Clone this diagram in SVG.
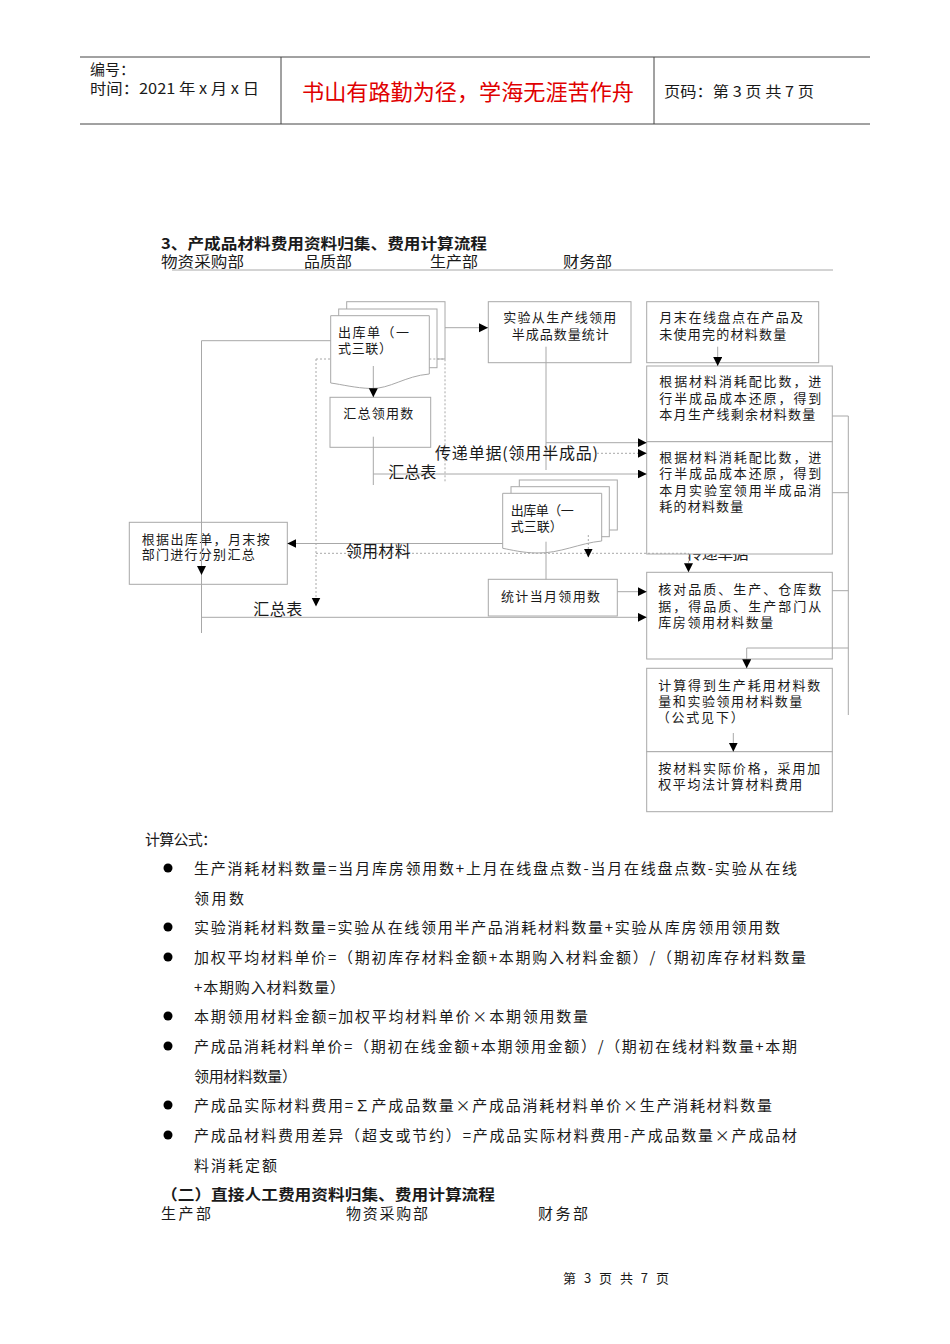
<svg xmlns="http://www.w3.org/2000/svg" width="950" height="1344" viewBox="0 0 950 1344">
<style>
.t{font-family:"Noto Sans CJK SC","Liberation Sans",sans-serif;fill:#1a1a1a}
.s13{font-size:13px}
.s15{font-size:15px}
.s16{font-size:16px}
.b{font-weight:bold}
.box{fill:#fff;stroke:#a8a8a8;stroke-width:1}
.ln{fill:none;stroke:#a8a8a8;stroke-width:1}
.dl{fill:none;stroke:#a8a8a8;stroke-width:1;stroke-dasharray:2 2}
.hd{fill:none;stroke:#444;stroke-width:1}
</style>
<defs>
<marker id="ah" markerUnits="userSpaceOnUse" markerWidth="10" markerHeight="10" refX="9" refY="4.5" orient="auto">
<path d="M0,0 L9,4.5 L0,9 z" fill="#000"/>
</marker>
</defs>
<rect width="950" height="1344" fill="#fff"/>

<g id="header">
<path class="hd" d="M80,57 H870 M80,124 H870 M281,57 V124 M654,57 V124"/>
<text class="t s15" x="90" y="75">编号：</text>
<text class="t s15" x="90" y="94" textLength="169" lengthAdjust="spacingAndGlyphs">时间：2021 年 x 月 x 日</text>
<text class="t" x="302" y="100" font-size="22" style="fill:#e00000" textLength="332" lengthAdjust="spacingAndGlyphs">书山有路勤为径，学海无涯苦作舟</text>
<text class="t s15" x="664" y="97" textLength="150" lengthAdjust="spacingAndGlyphs">页码：第 3 页  共 7 页</text>
</g>

<g id="title">
<text class="t s15 b" x="161" y="249" textLength="326" lengthAdjust="spacingAndGlyphs">3、产成品材料费用资料归集、费用计算流程</text>
<text class="t s15" x="161" y="267" textLength="83" lengthAdjust="spacingAndGlyphs">物资采购部</text>
<text class="t s15" x="304" y="267" textLength="48" lengthAdjust="spacingAndGlyphs">品质部</text>
<text class="t s15" x="430" y="267" textLength="48" lengthAdjust="spacingAndGlyphs">生产部</text>
<text class="t s15" x="563" y="267" textLength="49" lengthAdjust="spacingAndGlyphs">财务部</text>
<path class="ln" d="M172,270 H833"/>
</g>

<g id="n-shiyan">
<rect class="box" x="488.3" y="301.7" width="142.7" height="61"/>
<text class="t s13" x="503.3" y="322" textLength="113" lengthAdjust="spacing">实验从生产线领用</text>
<text class="t s13" x="511.7" y="339" textLength="97" lengthAdjust="spacing">半成品数量统计</text>
</g>
<g id="n-yuemo">
<rect class="box" x="646.7" y="301.7" width="172" height="61"/>
<text class="t s13" x="659.3" y="322" textLength="144" lengthAdjust="spacing">月末在线盘点在产品及</text>
<text class="t s13" x="659.3" y="339" textLength="127" lengthAdjust="spacing">未使用完的材料数量</text>
</g>
<g id="n-gen1">
<rect class="box" x="646.7" y="366" width="185.6" height="75.7"/>
<text class="t s13" x="659.3" y="386" textLength="162" lengthAdjust="spacing">根据材料消耗配比数，进</text>
<text class="t s13" x="659.3" y="402.5" textLength="162" lengthAdjust="spacing">行半成品成本还原，得到</text>
<text class="t s13" x="659.3" y="418.5" textLength="156" lengthAdjust="spacing">本月生产线剩余材料数量</text>
</g>
<text id="lbl-chuandi2" class="t s16" x="686.5" y="559" textLength="62" lengthAdjust="spacing">传递单据</text>
<g id="n-gen2">
<rect class="box" x="646.7" y="441.7" width="185.6" height="112.3"/>
<text class="t s13" x="659.3" y="462" textLength="162" lengthAdjust="spacing">根据材料消耗配比数，进</text>
<text class="t s13" x="659.3" y="478.3" textLength="162" lengthAdjust="spacing">行半成品成本还原，得到</text>
<text class="t s13" x="659.3" y="494.6" textLength="162" lengthAdjust="spacing">本月实验室领用半成品消</text>
<text class="t s13" x="659.3" y="510.9" textLength="84" lengthAdjust="spacing">耗的材料数量</text>
</g>
<g id="n-hedui">
<rect class="box" x="646.7" y="572.3" width="185.6" height="86.7"/>
<text class="t s13" x="658.3" y="594" textLength="163" lengthAdjust="spacing">核对品质、生产、仓库数</text>
<text class="t s13" x="658.3" y="610.5" textLength="163" lengthAdjust="spacing">据，得品质、生产部门从</text>
<text class="t s13" x="658.3" y="627" textLength="115" lengthAdjust="spacing">库房领用材料数量</text>
</g>
<g id="n-jisuan">
<rect class="box" x="646.7" y="668.3" width="185.6" height="83.4"/>
<text class="t s13" x="658.3" y="690" textLength="162" lengthAdjust="spacing">计算得到生产耗用材料数</text>
<text class="t s13" x="658.3" y="706" textLength="144" lengthAdjust="spacing">量和实验领用材料数量</text>
<text class="t s13" x="656.7" y="722" textLength="87" lengthAdjust="spacing">（公式见下）</text>
</g>
<g id="n-an">
<rect class="box" x="646.7" y="751.7" width="185.6" height="60"/>
<text class="t s13" x="658.3" y="773" textLength="162" lengthAdjust="spacing">按材料实际价格，采用加</text>
<text class="t s13" x="658.3" y="789" textLength="144" lengthAdjust="spacing">权平均法计算材料费用</text>
</g>
<g id="n-huizong">
<rect class="box" x="330" y="397.3" width="100.7" height="50"/>
<text class="t s13" x="343.3" y="418" textLength="70" lengthAdjust="spacing">汇总领用数</text>
</g>
<g id="n-genju">
<rect class="box" x="129.3" y="522.3" width="158" height="62"/>
<text class="t s13" x="141.7" y="543.5" textLength="128" lengthAdjust="spacing">根据出库单，月末按</text>
<text class="t s13" x="141.7" y="559" textLength="113" lengthAdjust="spacing">部门进行分别汇总</text>
</g>
<g id="n-tongji">
<rect class="box" x="488.3" y="579.3" width="129" height="36.7"/>
<text class="t s13" x="501" y="601" textLength="99" lengthAdjust="spacing">统计当月领用数</text>
</g>
<g id="n-doc1">
<rect class="box" x="346.7" y="301.7" width="98.3" height="57.3"/>
<rect class="box" x="338.7" y="309" width="98.3" height="58.7"/>
<path class="box" d="M330.7,315.7 H429.3 V374 C405,376 390,389 371,388.5 C355,388 342,384.5 330.7,383 Z"/>
<text class="t s13" x="338" y="337" textLength="71" lengthAdjust="spacing">出库单（一</text>
<text class="t s13" x="338" y="353" textLength="54" lengthAdjust="spacing">式三联）</text>
</g>
<g id="n-doc2">
<rect class="box" x="519.3" y="480" width="98" height="50"/>
<rect class="box" x="511" y="486.7" width="98.3" height="50"/>
<path class="box" d="M502.7,493.3 H601.7 V541 C580,543 560,553.5 537,553 C522,552.7 512,550 502.7,548.3 Z"/>
<text class="t s13" x="510.7" y="515" textLength="63" lengthAdjust="spacing">出库单（一</text>
<text class="t s13" x="510.7" y="531" textLength="52" lengthAdjust="spacing">式三联）</text>
</g>

<g id="connectors">
<path class="ln" d="M201.5,340.7 H330.7 M201.5,340.7 V633"/>
<path class="ln" d="M445,327.7 H488" marker-end="url(#ah)"/>
<path class="ln" d="M717.7,346.7 V366" marker-end="url(#ah)"/>
<path class="ln" d="M546,346.7 V470"/>
<path class="ln" d="M546,442.7 H646.7" marker-end="url(#ah)"/>
<path class="ln" d="M373.3,366 V397.3" marker-end="url(#ah)"/>
<path class="ln" d="M373.3,436.7 V485"/>
<path class="ln" d="M373.3,474 H646.7" marker-end="url(#ah)"/>
<path class="ln" d="M502.7,543.5 H287.3" marker-end="url(#ah)"/>
<path class="ln" d="M201.5,566 V575" marker-end="url(#ah)"/>
<path class="ln" d="M201.5,617.3 H646.7" marker-end="url(#ah)"/>
<path class="ln" d="M546,541.7 V579.3"/>
<path class="ln" d="M617.3,591.7 H646.7" marker-end="url(#ah)"/>
<path class="ln" d="M832.3,416 H848.3 V715 M832.3,492.7 H848.3 M832.3,590.7 H848.3"/>
<path class="ln" d="M848.3,648 H746.7 V668.3" marker-end="url(#ah)"/>
<path class="ln" d="M733.3,733 V751.7" marker-end="url(#ah)"/>
<path class="dl" d="M316,359 H330.7 M429.3,359 H445 V481.7"/>
<path class="dl" d="M316,359 V606.5" marker-end="url(#ah)"/>
<path class="dl" d="M316,553.3 H688.5 V572.3" marker-end="url(#ah)"/>
<path class="dl" d="M588.3,535 V557.5" marker-end="url(#ah)"/>
<path class="dl" d="M597,453.3 H646.7" marker-end="url(#ah)"/>
</g>

<g id="labels">
<text class="t s16" x="435" y="459" textLength="163" lengthAdjust="spacing">传递单据(领用半成品)</text>
<text class="t s16" x="388.3" y="478" textLength="48" lengthAdjust="spacing">汇总表</text>
<text class="t s16" x="345.7" y="557" textLength="65" lengthAdjust="spacing">领用材料</text>
<text class="t s16" x="253.3" y="615" textLength="49" lengthAdjust="spacing">汇总表</text>
</g>

<g id="formulas">
<text class="t s15" x="145" y="845" textLength="72" lengthAdjust="spacing">计算公式：</text>
<g fill="#000">
<circle cx="168" cy="868" r="4.5"/>
<circle cx="168" cy="927" r="4.5"/>
<circle cx="168" cy="957" r="4.5"/>
<circle cx="168" cy="1016" r="4.5"/>
<circle cx="168" cy="1046" r="4.5"/>
<circle cx="168" cy="1105" r="4.5"/>
<circle cx="168" cy="1135" r="4.5"/>
</g>
<text class="t s15" x="194" y="874" textLength="603" lengthAdjust="spacing">生产消耗材料数量=当月库房领用数+上月在线盘点数-当月在线盘点数-实验从在线</text>
<text class="t s15" x="194" y="904" textLength="50" lengthAdjust="spacing">领用数</text>
<text class="t s15" x="194" y="933" textLength="586" lengthAdjust="spacing">实验消耗材料数量=实验从在线领用半产品消耗材料数量+实验从库房领用领用数</text>
<text class="t s15" x="194" y="963" textLength="612" lengthAdjust="spacing">加权平均材料单价=（期初库存材料金额+本期购入材料金额）/（期初库存材料数量</text>
<text class="t s15" x="194" y="993" textLength="151" lengthAdjust="spacing">+本期购入材料数量）</text>
<text class="t s15" x="194" y="1022" textLength="394" lengthAdjust="spacing">本期领用材料金额=加权平均材料单价×本期领用数量</text>
<text class="t s15" x="194" y="1052" textLength="603" lengthAdjust="spacing">产成品消耗材料单价=（期初在线金额+本期领用金额）/（期初在线材料数量+本期</text>
<text class="t s15" x="194" y="1082" textLength="103" lengthAdjust="spacing">领用材料数量）</text>
<text class="t s15" x="194" y="1111" textLength="578" lengthAdjust="spacing">产成品实际材料费用=∑产成品数量×产成品消耗材料单价×生产消耗材料数量</text>
<text class="t s15" x="194" y="1141" textLength="603" lengthAdjust="spacing">产成品材料费用差异（超支或节约）=产成品实际材料费用-产成品数量×产成品材</text>
<text class="t s15" x="194" y="1171" textLength="83" lengthAdjust="spacing">料消耗定额</text>
<text class="t s15 b" x="161" y="1200" textLength="334" lengthAdjust="spacingAndGlyphs">（二）直接人工费用资料归集、费用计算流程</text>
<text class="t s15" x="161" y="1219" textLength="50" lengthAdjust="spacing">生产部</text>
<text class="t s15" x="346" y="1219" textLength="82" lengthAdjust="spacing">物资采购部</text>
<text class="t s15" x="538" y="1219" textLength="50" lengthAdjust="spacing">财务部</text>
</g>

<g id="footer">
<text class="t s13" x="563" y="1283" textLength="106" lengthAdjust="spacing">第 3 页 共 7 页</text>
</g>
</svg>
